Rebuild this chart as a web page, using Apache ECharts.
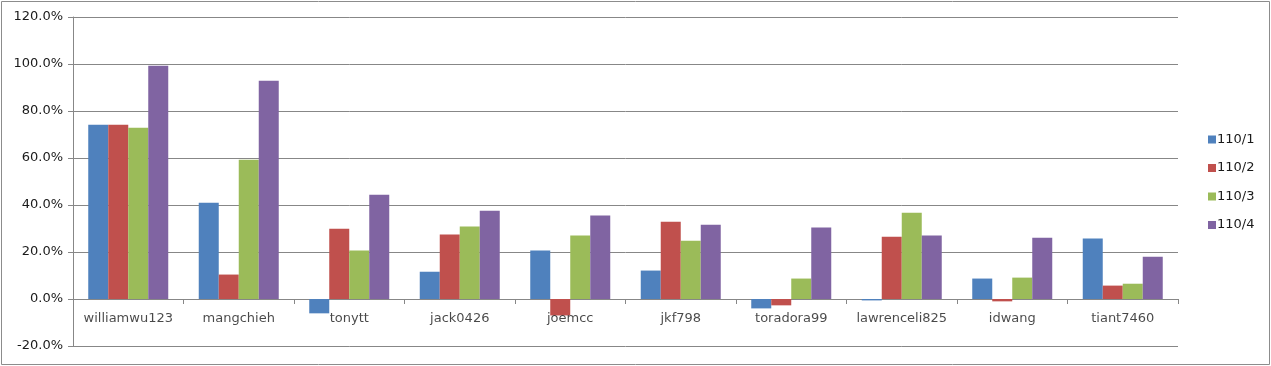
<!DOCTYPE html>
<html>
<head>
<meta charset="utf-8">
<script src="https://cdn.jsdelivr.net/npm/echarts@6/dist/echarts.min.js"></script>
<style>
html,body{margin:0;padding:0;background:#fff;}
#chart{width:1271px;height:366px;}
</style>
</head>
<body>
<div id="chart"></div>
<script>
var categories = ['williamwu123','mangchieh','tonytt','jack0426','joemcc','jkf798','toradora99','lawrenceli825','idwang','tiant7460'];
var seriesNames = ['110/1','110/2','110/3','110/4'];
var s1 = [74.2, 41.0, -6.1, 11.6, 20.6, 12.1, -4.0, -0.6, 8.7, 25.7];
var s2 = [74.2, 10.4, 29.9, 27.4, -7.0, 32.9, -2.7, 26.5, -1.0, 5.7];
var s3 = [72.9, 59.3, 20.6, 30.8, 27.0, 24.8, 8.7, 36.7, 9.1, 6.5];
var s4 = [99.3, 92.9, 44.4, 37.6, 35.5, 31.6, 30.4, 27.0, 26.1, 18.0];
var yTicks = {min: -20, max: 120, interval: 20};

var colors = ['#4F81BD','#C0504D','#9BBB59','#8064A2'];
var values = [s1, s2, s3, s4];
var fontFamily = '"DejaVu Sans", Verdana, sans-serif';
var lineColor = '#878787';
var textColor = '#1a1a1a';

var barSeries = seriesNames.map(function (name, i) {
  return {
    name: name,
    type: 'bar',
    data: values[i],
    barGap: '0%',
    barCategoryGap: '27.6%',
    itemStyle: {color: colors[i]}
  };
});

// category labels sitting under the zero line (Excel style)
var labelSeries = {
  name: 'categoryLabels',
  type: 'scatter',
  data: categories.map(function (c) { return [c, 0]; }),
  symbolSize: 0,
  silent: true,
  z: 5,
  label: {
    show: true,
    position: 'bottom',
    distance: 13,
    fontSize: 13,
    color: textColor,
    fontFamily: fontFamily,
    formatter: function (p) { return p.data[0]; }
  }
};

var chart = echarts.init(document.getElementById('chart'));
chart.setOption({
  animation: false,
  color: colors,
  textStyle: {fontFamily: fontFamily},
  graphic: [{
    type: 'rect',
    shape: {x: 1.5, y: 1.5, width: 1268, height: 363},
    style: {fill: 'none', stroke: '#8c8c8c', lineWidth: 1},
    silent: true
  }],
  grid: {left: 73, right: 93, top: 17, bottom: 20, containLabel: false, outerBoundsMode: 'none'},
  legend: {
    orient: 'vertical',
    left: 1203,
    top: 128,
    itemWidth: 8,
    itemHeight: 8,
    itemGap: 15.5,
    icon: 'rect',
    textStyle: {fontSize: 13, color: textColor, fontFamily: fontFamily, padding: [0,0,0,-4], lineHeight: 13},
    data: seriesNames
  },
  xAxis: {
    type: 'category',
    data: categories,
    axisLine: {onZero: true, lineStyle: {color: lineColor, width: 1}},
    axisTick: {show: true, alignWithLabel: false, length: 5, inside: false, lineStyle: {color: lineColor}},
    axisLabel: {show: false},
    splitLine: {show: false}
  },
  yAxis: {
    type: 'value',
    min: yTicks.min,
    max: yTicks.max,
    interval: yTicks.interval,
    axisLine: {show: true, lineStyle: {color: lineColor, width: 1}},
    axisTick: {show: true, length: 5, lineStyle: {color: lineColor}},
    axisLabel: {fontSize: 13, color: textColor, margin: 10, fontFamily: fontFamily,
      formatter: function (v) { return v.toFixed(1) + '%'; }},
    splitLine: {show: true, lineStyle: {color: lineColor, width: 1}}
  },
  series: barSeries.concat([labelSeries])
});
</script>
</body>
</html>
